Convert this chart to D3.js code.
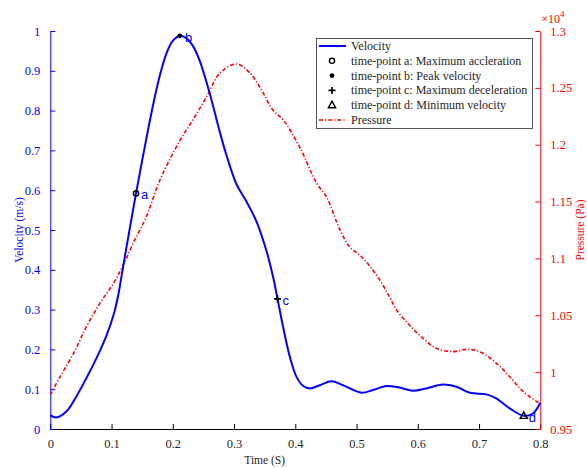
<!DOCTYPE html>
<html>
<head>
<meta charset="utf-8">
<script src="https://cdn.jsdelivr.net/npm/d3@7"></script>
<style>
  body { margin: 0; background: #fff; }
  svg { display: block; }
</style>
</head>
<body>
<div id="chart"></div>
<script>
// velocity (m/s) against time (s)
const velTime = [0, 0.01, 0.027, 0.043, 0.059, 0.076, 0.092, 0.103, 0.11, 0.118, 0.13, 0.14, 0.15, 0.16, 0.17, 0.18,
  0.19, 0.2, 0.2116, 0.222, 0.233, 0.244, 0.26, 0.277, 0.288, 0.304, 0.32, 0.337, 0.353, 0.364, 0.371, 0.38, 0.391,
  0.402, 0.413, 0.424, 0.44, 0.459, 0.478, 0.508, 0.527, 0.549, 0.57, 0.592, 0.614, 0.641, 0.663, 0.685, 0.712, 0.728,
  0.75, 0.773, 0.788, 0.8];
const velValues = [0.035, 0.029, 0.045, 0.083, 0.128, 0.18, 0.236, 0.285, 0.329, 0.4, 0.506, 0.592, 0.675, 0.755,
  0.83, 0.895, 0.945, 0.975, 0.988, 0.982, 0.962, 0.925, 0.845, 0.745, 0.686, 0.615, 0.572, 0.52, 0.447, 0.38, 0.327,
  0.257, 0.182, 0.131, 0.108, 0.102, 0.11, 0.12, 0.11, 0.091, 0.098, 0.108, 0.104, 0.096, 0.102, 0.112, 0.106, 0.091,
  0.087, 0.077, 0.052, 0.033, 0.039, 0.066];
// pressure (x10^4 Pa) against time (s)
const presTime = [0, 0.016, 0.038, 0.059, 0.081, 0.103, 0.119, 0.135, 0.157, 0.179, 0.212, 0.233, 0.255, 0.277, 0.304,
  0.326, 0.345, 0.364, 0.38, 0.407, 0.435, 0.451, 0.473, 0.489, 0.505, 0.516, 0.538, 0.554, 0.565, 0.587, 0.608, 0.63,
  0.657, 0.679, 0.701, 0.728, 0.75, 0.772, 0.8];
const presValues = [0.98, 0.996, 1.0165, 1.04, 1.0605, 1.078, 1.094, 1.113, 1.137, 1.169, 1.204, 1.222, 1.242, 1.263, 1.271,
  1.263, 1.248, 1.23, 1.222, 1.198, 1.166, 1.154, 1.125, 1.11, 1.103, 1.097, 1.081, 1.066, 1.055, 1.041, 1.03, 1.021,
  1.018, 1.02, 1.018, 1.008, 0.996, 0.983, 0.972];
// time-points
const pointNames = ['a', 'b', 'c', 'd'];
const pointTime = [0.14, 0.2116, 0.371, 0.773];
const pointVel = [0.592, 0.988, 0.327, 0.033];
const pointSymbols = ['circle', 'dot', 'plus', 'triangle'];
const legendLabels = ['Velocity', 'time-point a: Maximum accleration', 'time-point b: Peak velocity',
  'time-point c: Maximum deceleration', 'time-point d: Minimum velocity', 'Pressure'];
const xTicks = [0, 0.1, 0.2, 0.3, 0.4, 0.5, 0.6, 0.7, 0.8];
const leftTicks = [0, 0.1, 0.2, 0.3, 0.4, 0.5, 0.6, 0.7, 0.8, 0.9, 1];
const rightTicks = [0.95, 1, 1.05, 1.1, 1.15, 1.2, 1.25, 1.3];

const width = 587, height = 468;
const plotLeft = 50.3, plotRight = 540.3, plotTop = 31, plotBottom = 429;
const BLUE = '#0000ff', RED = '#ff0000', DARK = '#262626';
const serif = '"Liberation Serif", "Times New Roman", serif';
const DASHDOT = '4,2,1.2,2';

const svg = d3.select('#chart').append('svg')
  .attr('width', width)
  .attr('height', height);

const x = d3.scaleLinear().domain([0, 0.8]).range([plotLeft, plotRight]);
const yV = d3.scaleLinear().domain([0, 1]).range([plotBottom, plotTop]);
const yP = d3.scaleLinear().domain([0.95, 1.3]).range([plotBottom, plotTop]);

// axes ---------------------------------------------------------------
const fmt = d => String(+d.toFixed(2));
function styleAxis(g, color, textColor) {
  g.attr('font-family', serif).attr('font-size', 12.5);
  g.select('.domain').attr('stroke', color);
  g.selectAll('line').attr('stroke', color);
  g.selectAll('text').style('font-family', serif).style('font-size', '12.5px').attr('fill', textColor);
}
const xAxis = svg.append('g')
  .attr('transform', `translate(0,${plotBottom})`)
  .call(d3.axisBottom(x).tickValues(xTicks).tickFormat(fmt).tickSizeInner(-5).tickSizeOuter(0).tickPadding(10));
styleAxis(xAxis, '#000', DARK);

const lAxis = svg.append('g')
  .attr('transform', `translate(${plotLeft},0)`)
  .call(d3.axisLeft(yV).tickValues(leftTicks).tickFormat(fmt).tickSizeInner(-5).tickSizeOuter(0).tickPadding(10));
styleAxis(lAxis, BLUE, BLUE);

const rAxis = svg.append('g')
  .attr('transform', `translate(${plotRight},0)`)
  .call(d3.axisRight(yP).tickValues(rightTicks).tickFormat(fmt).tickSizeInner(-5).tickSizeOuter(0).tickPadding(10));
styleAxis(rAxis, RED, RED);

// exponent
const expo = svg.append('text')
  .attr('x', plotRight + 1)
  .attr('y', 23)
  .attr('fill', RED)
  .style('font-family', serif)
  .style('font-size', '12px');
expo.append('tspan').text('×10');
expo.append('tspan').attr('dy', -6).style('font-size', '9px').text('4');

// axis titles
svg.append('text')
  .attr('transform', `translate(${x(0.35)},${plotBottom + 35}) `)
  .attr('text-anchor', 'middle')
  .attr('fill', DARK)
  .style('font-family', serif)
  .style('font-size', '11.5px')
  .text('Time (S)');
svg.append('text')
  .attr('transform', `translate(23,${(plotTop + plotBottom) / 2}) rotate(-90)`)
  .attr('text-anchor', 'middle')
  .attr('fill', BLUE)
  .style('font-family', serif)
  .style('font-size', '11.5px')
  .text('Velocity (m/s)');
svg.append('text')
  .attr('transform', `translate(584,${(plotTop + plotBottom) / 2}) rotate(-90)`)
  .attr('text-anchor', 'middle')
  .attr('fill', RED)
  .style('font-family', serif)
  .style('font-size', '11.5px')
  .text('Pressure (Pa)');

// lines --------------------------------------------------------------
const velLine = d3.line()
  .x((d, i) => x(velTime[i]))
  .y(d => yV(d))
  .curve(d3.curveCatmullRom.alpha(0.5));
const presLine = d3.line()
  .x((d, i) => x(presTime[i]))
  .y(d => yP(d))
  .curve(d3.curveCatmullRom.alpha(0.5));

svg.append('path')
  .datum(presValues)
  .attr('d', presLine)
  .attr('fill', 'none')
  .attr('stroke', RED)
  .attr('stroke-width', 1.6)
  .attr('stroke-dasharray', DASHDOT);

svg.append('path')
  .datum(velValues)
  .attr('d', velLine)
  .attr('fill', 'none')
  .attr('stroke', BLUE)
  .attr('stroke-width', 2);

// markers ------------------------------------------------------------
function drawMarker(g, kind, cx, cy) {
  if (kind === 'circle') {
    g.append('circle').attr('cx', cx).attr('cy', cy).attr('r', 2.6)
      .attr('fill', 'none').attr('stroke', '#000').attr('stroke-width', 1.4);
  } else if (kind === 'dot') {
    g.append('circle').attr('cx', cx).attr('cy', cy).attr('r', 2.4).attr('fill', '#000');
  } else if (kind === 'plus') {
    g.append('path').attr('d', `M${cx - 3.5},${cy}H${cx + 3.5}M${cx},${cy - 3.5}V${cy + 3.5}`)
      .attr('stroke', '#000').attr('stroke-width', 1.6);
  } else {
    g.append('path').attr('d', `M${cx},${cy - 4}L${cx + 3.6},${cy + 2.5}L${cx - 3.6},${cy + 2.5}Z`)
      .attr('fill', 'none').attr('stroke', '#000').attr('stroke-width', 1.4);
  }
}

const marks = svg.append('g');
pointNames.forEach((name, i) => {
  const cx = x(pointTime[i]), cy = yV(pointVel[i]);
  drawMarker(marks, pointSymbols[i], cx, cy);
  marks.append('text')
    .attr('x', cx + 5)
    .attr('y', cy + 6)
    .attr('fill', BLUE)
    .style('font-family', '"Liberation Sans", Arial, sans-serif')
    .style('font-size', '13px')
    .text(name);
});

// legend -------------------------------------------------------------
const lg = svg.append('g');
lg.append('rect')
  .attr('x', 316.5).attr('y', 38.5)
  .attr('width', 216).attr('height', 90)
  .attr('fill', '#fff')
  .attr('stroke', '#555')
  .attr('stroke-width', 1);
legendLabels.forEach((label, i) => {
  const cy = 46 + i * 14.8;
  if (i === 0) {
    lg.append('line').attr('x1', 319).attr('x2', 346).attr('y1', cy).attr('y2', cy)
      .attr('stroke', BLUE).attr('stroke-width', 2);
  } else if (i === legendLabels.length - 1) {
    lg.append('line').attr('x1', 319).attr('x2', 346).attr('y1', cy).attr('y2', cy)
      .attr('stroke', RED).attr('stroke-width', 1.6).attr('stroke-dasharray', DASHDOT);
  } else {
    drawMarker(lg, pointSymbols[i - 1], 332, cy);
  }
  lg.append('text')
    .attr('x', 351)
    .attr('y', cy + 4)
    .attr('fill', DARK)
    .style('font-family', serif)
    .style('font-size', '12px')
    .text(label);
});
</script>
</body>
</html>
